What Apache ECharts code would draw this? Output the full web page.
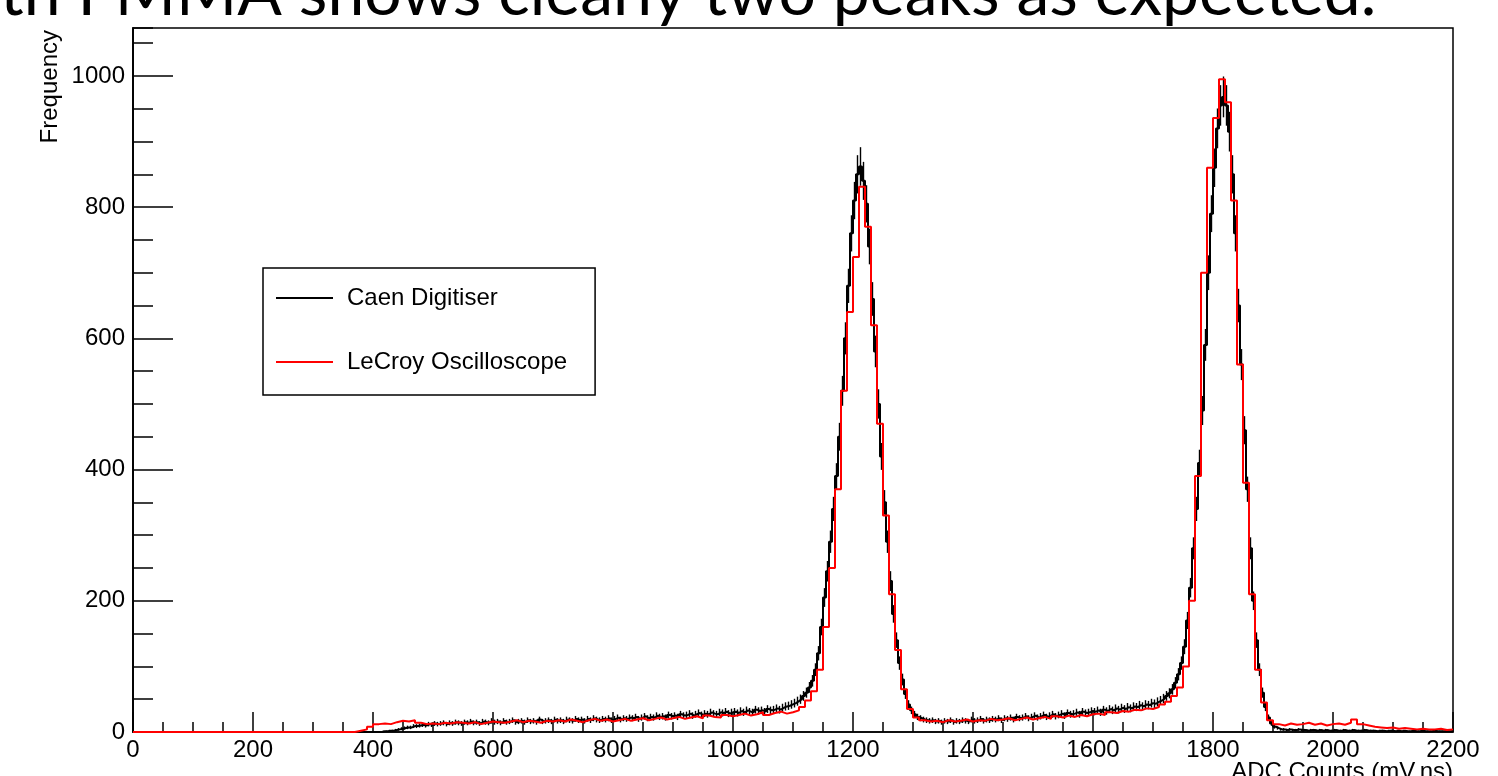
<!DOCTYPE html>
<html><head><meta charset="utf-8">
<script src="https://cdn.jsdelivr.net/npm/echarts@6/dist/echarts.min.js"></script>
<style>html,body{margin:0;padding:0;background:#fff}#c{width:1498px;height:776px}</style>
</head><body><div id="c"></div>
<script>
// ---- data ----
const xMin = 0, xMax = 2200, xStep = 200;
const yMin = 0, yMax = 1073, yStep = 200, yMinorStep = 50;
const seriesNames = ['Caen Digitiser', 'LeCroy Oscilloscope'];
const caenBinWidth = 5;   // ADC counts per bin, first bin starts at 0
const caen = [
  0,0,0,0,0,0,0,0,0,0,0,0,0,0,0,0,0,0,0,0,
  0,0,0,0,0,0,0,0,0,0,0,0,0,0,0,0,0,0,0,0,
  0,0,0,0,0,0,0,0,0,0,0,0,0,0,0,0,0,0,0,0,
  0,0,0,0,0,0,0,0,0,0,0,0,0,0,0,0,0,0,0,0,
  0,0,0,1,1,2,2,3,4,5,6,7,7,9,9,10,11,10,12,11,
  13,12,13,14,12,14,13,15,14,13,15,14,16,14,15,13,16,15,14,17,
  15,16,14,17,15,16,18,15,16,17,15,18,16,17,15,19,16,17,18,16,
  19,17,18,16,19,18,17,20,18,19,17,20,18,21,19,18,20,19,21,18,
  20,22,19,21,20,22,21,23,20,22,24,21,23,22,25,23,24,22,26,24,
  25,23,27,25,26,28,25,27,29,26,28,27,30,28,27,30,29,31,28,30,
  31,29,32,30,33,31,30,34,32,33,31,35,33,34,36,34,37,39,40,42,
  44,47,50,55,60,68,78,95,120,160,205,245,290,340,390,450,520,600,680,760,
  810,850,862,840,805,740,660,580,500,420,350,290,230,180,140,105,80,58,42,33,
  27,23,21,19,18,17,18,16,17,15,17,16,18,15,17,16,18,17,16,19,
  17,18,20,17,19,18,20,19,21,18,21,20,22,19,23,21,22,24,21,23,
  25,22,24,26,23,25,27,24,26,28,25,29,27,28,30,27,31,29,30,32,
  31,33,30,34,32,35,33,36,34,37,35,38,36,39,38,41,39,42,41,44,
  43,46,48,51,55,59,65,75,88,105,130,170,220,280,340,410,490,590,700,790,
  860,920,955,968,955,915,850,760,650,560,460,370,280,200,140,95,60,38,22,13,
  8,6,4,4,3,4,3,3,4,3,3,2,3,3,2,3,2,3,2,2,
  3,2,2,3,2,2,3,2,2,2,3,2,2,2,1,2,2,1,2,2,
  1,2,1,2,1,1,2,1,1,2,1,1,1,2,1,1,1,1,1,1
];
const lecroyBinWidth = 10;
const lecroy = [
  0,0,0,0,0,0,0,0,0,0,
  0,0,0,0,0,0,0,0,0,0,
  0,0,0,0,0,0,0,0,0,0,
  0,0,0,0,0,0,0,2,4,8,
  12,13,12,15,17,16,18,14,12,13,
  12,14,13,15,14,13,15,12,14,16,
  15,14,16,18,15,17,16,14,17,16,
  18,16,19,17,15,18,20,17,19,16,
  18,20,17,19,21,18,20,22,19,21,
  23,20,22,24,21,25,23,22,26,24,
  26,28,25,27,30,26,29,31,28,30,
  33,38,48,62,95,160,250,370,520,640,
  724,831,770,620,470,330,210,125,65,35,
  22,18,16,17,15,18,16,17,19,16,
  18,17,20,18,19,21,18,20,22,19,
  21,23,20,24,22,25,23,26,24,27,
  28,26,30,29,32,31,34,33,36,35,
  38,42,46,55,68,100,200,390,700,860,
  936,995,960,810,560,380,210,95,45,18,
  12,10,13,11,12,14,11,13,10,12,
  13,11,14,19,12,10,8,7,6,7,
  5,6,5,4,5,4,4,5,3,4
];
const titleText = 'th FMMA shows clearly two peaks as expected.';
const xAxisTitle = 'ADC Counts (mV.ns)';
const yAxisTitle = 'Frequency';

// ---- build ----
function stepData(vals, w) {
  const d = vals.map((v, i) => [i * w, v]);
  d.push([vals.length * w, vals[vals.length - 1]]);
  return d;
}
const caenErr = caen.map((v, i) => [i * caenBinWidth + caenBinWidth / 2, v, Math.sqrt(v)]);

const FONT = 'Liberation Sans, Arial, Helvetica, sans-serif';
const plain = v => String(v);
const chart = echarts.init(document.getElementById('c'), null, {renderer: 'canvas'});
const commonY = {
  type: 'value', min: yMin, max: yMax, position: 'left',
  axisLine: {show: true, lineStyle: {color: '#000', width: 1.5}},
  splitLine: {show: false}
};
chart.setOption({
  animation: false,
  backgroundColor: '#fff',
  grid: {left: 133, right: 45, top: 28, bottom: 44, show: true, borderColor: '#000', borderWidth: 1.5, backgroundColor: 'transparent'},
  xAxis: {
    type: 'value', min: xMin, max: xMax, interval: xStep,
    axisLine: {show: true, onZero: false, lineStyle: {color: '#000', width: 1.5}},
    axisTick: {show: true, inside: true, length: 20, lineStyle: {color: '#000', width: 1.5}},
    minorTick: {show: true, splitNumber: 4, length: 10, lineStyle: {color: '#000', width: 1.5}},
    axisLabel: {color: '#000', fontSize: 24, fontFamily: FONT, margin: 6, formatter: plain},
    splitLine: {show: false}
  },
  yAxis: [
    Object.assign({}, commonY, {
      interval: yStep,
      axisTick: {show: true, inside: true, length: 40, lineStyle: {color: '#000', width: 1.5}},
      axisLabel: {color: '#000', fontSize: 24, fontFamily: FONT, margin: 8, showMaxLabel: false, formatter: plain}
    }),
    Object.assign({}, commonY, {
      interval: yMinorStep,
      axisTick: {show: true, inside: true, length: 20, lineStyle: {color: '#000', width: 1.5}},
      axisLabel: {show: false}
    })
  ],
  legend: {
    data: seriesNames.map(n => ({name: n, icon: 'rect'})), orient: 'vertical', left: 263, top: 268,
    itemWidth: 57, itemHeight: 2, itemGap: 40,
    padding: [18, 28, 21, 13],
    borderColor: '#000', borderWidth: 1.5, backgroundColor: '#fff',
    textStyle: {color: '#000', fontSize: 24, fontFamily: FONT, padding: [0, 0, 0, 9], lineHeight: 24},
    selectedMode: false
  },
  graphic: [
    {type: 'text', x: 0, y: -6, style: {text: titleText, font: '66px Lato, "Open Sans", sans-serif', fill: '#000', align: 'left', verticalAlign: 'middle'}},
    {type: 'text', x: 1453, y: 772, style: {text: xAxisTitle, font: '24px ' + FONT, fill: '#000', align: 'right', verticalAlign: 'middle'}},
    {type: 'text', x: 50, y: 30, rotation: Math.PI / 2, style: {text: yAxisTitle, font: '24px ' + FONT, fill: '#000', align: 'right', verticalAlign: 'middle'}}
  ],
  series: [
    {
      name: seriesNames[0], type: 'line', step: 'end', symbol: 'none',
      data: stepData(caen, caenBinWidth),
      lineStyle: {color: '#000', width: 2}, itemStyle: {color: '#000'},
      xAxisIndex: 0, yAxisIndex: 0, z: 2
    },
    {
      name: 'caenErrors', type: 'custom', xAxisIndex: 0, yAxisIndex: 0, z: 2, clip: true,
      data: caenErr,
      renderItem: function (params, api) {
        const v = api.value(1);
        if (!(v > 0)) return null;
        const x = api.value(0), e = api.value(2);
        const p1 = api.coord([x, v - e]);
        const p2 = api.coord([x, v + e]);
        return {type: 'line', shape: {x1: p1[0], y1: p1[1], x2: p2[0], y2: p2[1]}, style: {stroke: '#000', lineWidth: 1.4}};
      }
    },
    {
      name: seriesNames[1], type: 'line', step: 'end', symbol: 'none',
      data: stepData(lecroy, lecroyBinWidth),
      lineStyle: {color: '#ff0000', width: 2}, itemStyle: {color: '#ff0000'},
      xAxisIndex: 0, yAxisIndex: 0, z: 3
    }
  ]
});
</script>
</body></html>
